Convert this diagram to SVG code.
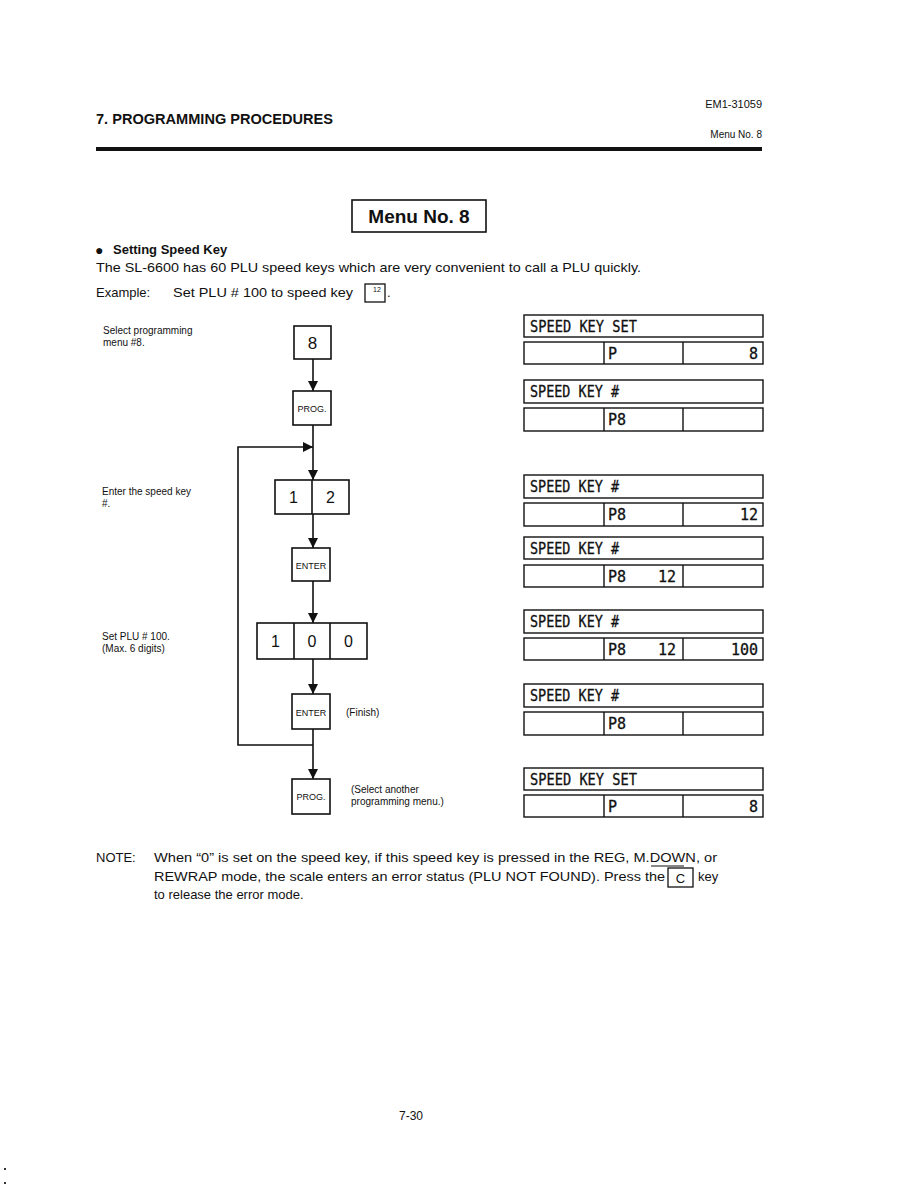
<svg xmlns="http://www.w3.org/2000/svg" width="918" height="1188" viewBox="0 0 918 1188">
<style>
.s{font-family:"Liberation Sans",Arial,sans-serif;fill:#111}
.b{font-weight:bold}
.box{fill:#fff;stroke:#111;stroke-width:1.6}
.d{fill:#fff;stroke:#111;stroke-width:1.4}
.m{font-family:"DejaVu Sans Mono","Liberation Mono",monospace;font-size:15px;fill:#111;stroke:#111;stroke-width:0.3}
.ln{fill:none;stroke:#111;stroke-width:1.6}
</style>
<defs>
<marker id="ah" viewBox="0 0 10 10" refX="10" refY="5" markerWidth="10" markerHeight="10" markerUnits="userSpaceOnUse" orient="auto">
<path d="M0,0 L10,5 L0,10 z" fill="#111"/>
</marker>
</defs>
<rect width="918" height="1188" fill="#fff"/>

<g id="header">
<text class="s" x="762" y="108" font-size="11" text-anchor="end">EM1-31059</text>
<text class="s b" x="96" y="124" font-size="14" textLength="237" lengthAdjust="spacingAndGlyphs">7. PROGRAMMING PROCEDURES</text>
<text class="s" x="762" y="138" font-size="10" text-anchor="end">Menu No. 8</text>
<rect x="96" y="147" width="666" height="4" fill="#111"/>
</g>

<g id="title">
<rect class="box" x="352" y="200" width="134" height="32"/>
<text class="s b" x="419" y="223" font-size="19" text-anchor="middle">Menu No. 8</text>
</g>

<g id="intro">
<text class="s b" x="95" y="255" font-size="14">●</text>
<text class="s b" x="113" y="254" font-size="13">Setting Speed Key</text>
<text class="s" x="96" y="272" font-size="13" textLength="545" lengthAdjust="spacingAndGlyphs">The SL-6600 has 60 PLU speed keys which are very convenient to call a PLU quickly.</text>
<text class="s" x="96" y="297" font-size="13">Example:</text>
<text class="s" x="173" y="297" font-size="13" textLength="180" lengthAdjust="spacingAndGlyphs">Set PLU # 100 to speed key</text>
<rect x="365" y="284" width="20" height="18" fill="#fff" stroke="#111" stroke-width="1.3"/>
<text class="s" x="377" y="292" font-size="7" text-anchor="middle">12</text>
<text class="s" x="387" y="297" font-size="13">.</text>
</g>

<g id="labels">
<text class="s" x="103" y="334" font-size="10">Select programming</text>
<text class="s" x="103" y="346" font-size="10">menu #8.</text>
<text class="s" x="102" y="495" font-size="10">Enter the speed key</text>
<text class="s" x="102" y="507" font-size="10">#.</text>
<text class="s" x="102" y="640" font-size="10">Set PLU # 100.</text>
<text class="s" x="102" y="652" font-size="10">(Max. 6 digits)</text>
</g>

<g id="connectors">
<line class="ln" x1="313" y1="359" x2="313" y2="391" marker-end="url(#ah)"/>
<line class="ln" x1="313" y1="425" x2="313" y2="480" marker-end="url(#ah)"/>
<polyline class="ln" points="313,745 238,745 238,447 313,447" marker-end="url(#ah)"/>
<line class="ln" x1="313" y1="514" x2="313" y2="548" marker-end="url(#ah)"/>
<line class="ln" x1="313" y1="581" x2="313" y2="623" marker-end="url(#ah)"/>
<line class="ln" x1="313" y1="659" x2="313" y2="694" marker-end="url(#ah)"/>
<line class="ln" x1="313" y1="729" x2="313" y2="779" marker-end="url(#ah)"/>
</g>

<g id="key8">
<rect class="box" x="294" y="326" width="37" height="33"/>
<text class="s" x="312.5" y="349" font-size="17" text-anchor="middle">8</text>
</g>
<g id="prog1">
<rect class="box" x="293" y="391" width="38" height="34"/>
<text class="s" x="312" y="412" font-size="9" text-anchor="middle">PROG.</text>
</g>
<g id="key12">
<rect class="box" x="275" y="480" width="74" height="34"/>
<line class="ln" x1="312" y1="480" x2="312" y2="514"/>
<text class="s" x="293.5" y="503" font-size="16" text-anchor="middle">1</text>
<text class="s" x="330.5" y="503" font-size="16" text-anchor="middle">2</text>
</g>
<g id="enter1">
<rect class="box" x="292" y="548" width="38" height="33"/>
<text class="s" x="311" y="569" font-size="9" text-anchor="middle">ENTER</text>
</g>
<g id="key100">
<rect class="box" x="257" y="623" width="110" height="36"/>
<line class="ln" x1="294" y1="623" x2="294" y2="659"/>
<line class="ln" x1="330" y1="623" x2="330" y2="659"/>
<text class="s" x="275.5" y="647" font-size="16" text-anchor="middle">1</text>
<text class="s" x="312" y="647" font-size="16" text-anchor="middle">0</text>
<text class="s" x="348.5" y="647" font-size="16" text-anchor="middle">0</text>
</g>
<g id="enter2">
<rect class="box" x="292" y="694" width="38" height="35"/>
<text class="s" x="311" y="716" font-size="9" text-anchor="middle">ENTER</text>
<text class="s" x="346" y="716" font-size="10">(Finish)</text>
</g>
<g id="prog2">
<rect class="box" x="292" y="779" width="38" height="35"/>
<text class="s" x="311" y="800" font-size="9" text-anchor="middle">PROG.</text>
<text class="s" x="351" y="793" font-size="10">(Select another</text>
<text class="s" x="351" y="805" font-size="10">programming menu.)</text>
</g>

<g id="disp1">
<rect class="d" x="524" y="315" width="239" height="22"/>
<text class="m" x="530" y="332" textLength="107" lengthAdjust="spacingAndGlyphs">SPEED KEY SET</text>
<rect class="d" x="524" y="342" width="239" height="22"/>
<line class="d" x1="604" y1="342" x2="604" y2="364"/><line class="d" x1="683" y1="342" x2="683" y2="364"/>
<text class="m" x="608" y="359">P</text>
<text class="m" x="758" y="359" text-anchor="end">8</text>
</g>
<g id="disp2">
<rect class="d" x="524" y="380" width="239" height="23"/>
<text class="m" x="530" y="397" textLength="89" lengthAdjust="spacingAndGlyphs">SPEED KEY #</text>
<rect class="d" x="524" y="408" width="239" height="23"/>
<line class="d" x1="604" y1="408" x2="604" y2="431"/><line class="d" x1="683" y1="408" x2="683" y2="431"/>
<text class="m" x="608" y="425">P8</text>
</g>
<g id="disp3">
<rect class="d" x="524" y="475" width="239" height="23"/>
<text class="m" x="530" y="492" textLength="89" lengthAdjust="spacingAndGlyphs">SPEED KEY #</text>
<rect class="d" x="524" y="503" width="239" height="23"/>
<line class="d" x1="604" y1="503" x2="604" y2="526"/><line class="d" x1="683" y1="503" x2="683" y2="526"/>
<text class="m" x="608" y="520">P8</text>
<text class="m" x="758" y="520" text-anchor="end">12</text>
</g>
<g id="disp4">
<rect class="d" x="524" y="537" width="239" height="22"/>
<text class="m" x="530" y="554" textLength="89" lengthAdjust="spacingAndGlyphs">SPEED KEY #</text>
<rect class="d" x="524" y="565" width="239" height="22"/>
<line class="d" x1="604" y1="565" x2="604" y2="587"/><line class="d" x1="683" y1="565" x2="683" y2="587"/>
<text class="m" x="608" y="582">P8</text>
<text class="m" x="676" y="582" text-anchor="end">12</text>
</g>
<g id="disp5">
<rect class="d" x="524" y="610" width="239" height="23"/>
<text class="m" x="530" y="627" textLength="89" lengthAdjust="spacingAndGlyphs">SPEED KEY #</text>
<rect class="d" x="524" y="638" width="239" height="22"/>
<line class="d" x1="604" y1="638" x2="604" y2="660"/><line class="d" x1="683" y1="638" x2="683" y2="660"/>
<text class="m" x="608" y="655">P8</text>
<text class="m" x="676" y="655" text-anchor="end">12</text>
<text class="m" x="758" y="655" text-anchor="end">100</text>
</g>
<g id="disp6">
<rect class="d" x="524" y="684" width="239" height="23"/>
<text class="m" x="530" y="701" textLength="89" lengthAdjust="spacingAndGlyphs">SPEED KEY #</text>
<rect class="d" x="524" y="712" width="239" height="23"/>
<line class="d" x1="604" y1="712" x2="604" y2="735"/><line class="d" x1="683" y1="712" x2="683" y2="735"/>
<text class="m" x="608" y="729">P8</text>
</g>
<g id="disp7">
<rect class="d" x="524" y="768" width="239" height="22"/>
<text class="m" x="530" y="785" textLength="107" lengthAdjust="spacingAndGlyphs">SPEED KEY SET</text>
<rect class="d" x="524" y="795" width="239" height="22"/>
<line class="d" x1="604" y1="795" x2="604" y2="817"/><line class="d" x1="683" y1="795" x2="683" y2="817"/>
<text class="m" x="608" y="812">P</text>
<text class="m" x="758" y="812" text-anchor="end">8</text>
</g>

<g id="note">
<text class="s" x="96" y="862" font-size="13">NOTE:</text>
<text class="s" x="154" y="862" font-size="13" textLength="563" lengthAdjust="spacingAndGlyphs">When “0” is set on the speed key, if this speed key is pressed in the REG, M.DOWN, or</text>
<line x1="651" y1="866" x2="684" y2="866" stroke="#111" stroke-width="1.2"/>
<text class="s" x="154" y="881" font-size="13" textLength="511" lengthAdjust="spacingAndGlyphs">REWRAP mode, the scale enters an error status (PLU NOT FOUND).  Press the</text>
<rect x="668" y="868" width="25" height="19" fill="#fff" stroke="#111" stroke-width="1.3"/>
<text class="s" x="680.5" y="883" font-size="13" text-anchor="middle">C</text>
<text class="s" x="698" y="881" font-size="13">key</text>
<text class="s" x="154" y="899" font-size="13">to release the error mode.</text>
</g>

<g id="footer">
<text class="s" x="411" y="1120" font-size="12" text-anchor="middle">7-30</text>
<rect x="4" y="1168" width="2" height="2" fill="#333"/>
<rect x="4" y="1182" width="2" height="2" fill="#333"/>
</g>
</svg>
